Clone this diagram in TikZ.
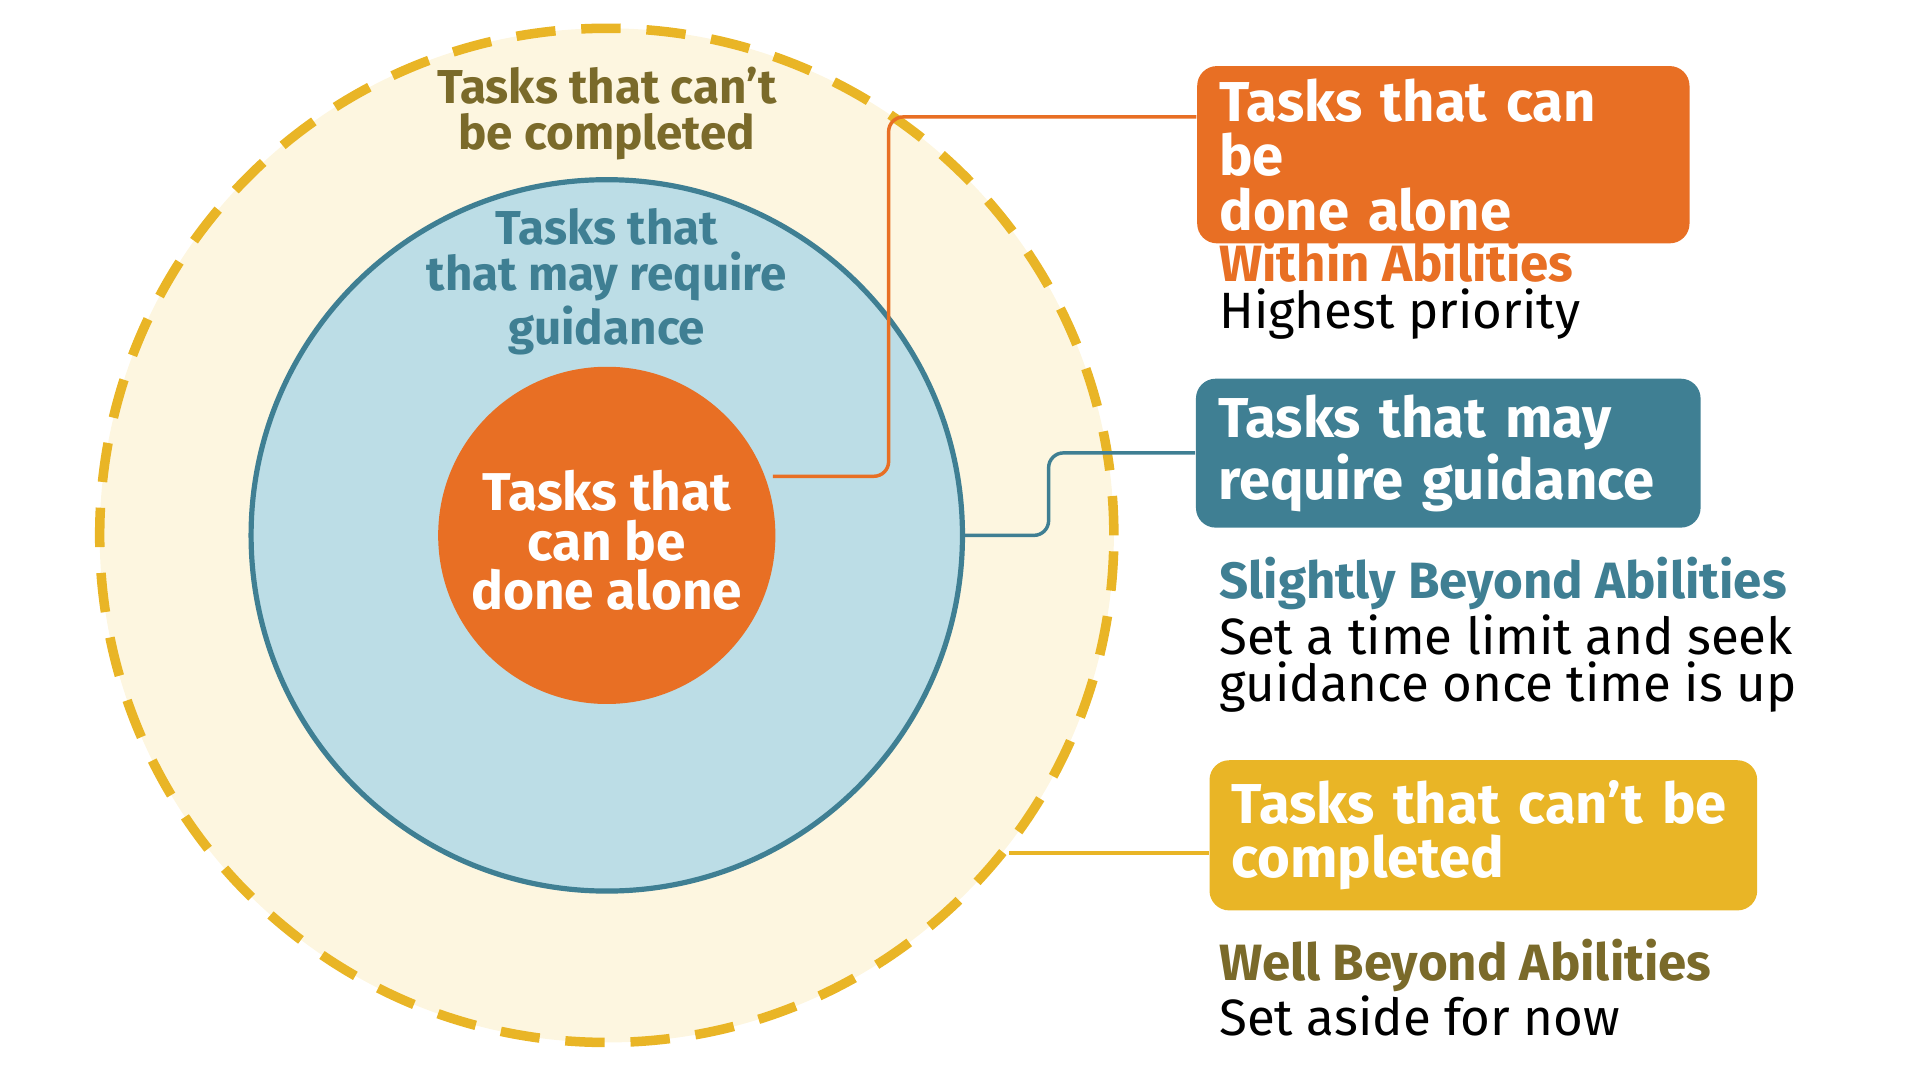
\documentclass[tikz,border=0pt]{standalone}
\usepackage{fontspec}
\setmainfont{Fira Sans}
\usetikzlibrary{calc}
\definecolor{alone}{HTML}{E86F24}
\definecolor{guide}{HTML}{3F7F93}
\definecolor{guidefill}{HTML}{BCDDE6}
\definecolor{beyond}{HTML}{E9B526}
\definecolor{beyondfill}{HTML}{FDF6E0}
\definecolor{olive}{HTML}{7A6A2A}
\tikzset{
    tagbox/.style={rounded corners=0.16cm, inner xsep=0.18cm, inner ysep=0.1cm, anchor=north west,
        text=white, font=\fontsize{13}{12.6}\selectfont\bfseries, align=left},
    sidetext/.style={anchor=north west, inner sep=0pt, align=left, font=\fontsize{11.8}{11}\selectfont},
    ringtext/.style={align=center, font=\fontsize{11}{10.6}\selectfont\bfseries},
    link/.style={line width=0.8pt, rounded corners=0.12cm},
}
\begin{document}
\begin{tikzpicture}
    \useasboundingbox (0, 0) rectangle (15.6, 8.78);
    \coordinate (O) at (4.93, 4.43);

    % circles
    \draw [beyond, fill=beyondfill, line width=2.2pt, dash pattern=on 0.32cm off 0.21cm] (O) circle (4.12);
    \draw [guide, fill=guidefill, line width=1.2pt] (O) circle (2.89);
    \fill [alone] (O) circle (1.37);

    % circle labels
    \node [ringtext, text=olive] (cantring) at (4.93, 7.86) {Tasks that can't\\be completed};
    \node [ringtext, text=guide] (mayring) at (4.93, 6.49) {Tasks that\\that may require\\guidance};
    \node [ringtext, text=white, font=\fontsize{12.3}{11.4}\selectfont\bfseries] (alonering) at (4.93, 4.39)
        {Tasks that\\can be\\done alone};

    % boxes
    \node [tagbox, fill=alone, text width=3.64cm, minimum height=1.17cm] (alonebox) at (9.72, 8.25)
        {Tasks that can be\\done alone};
    \node [tagbox, fill=guide, text width=3.74cm, minimum height=1.21cm] (maybox) at (9.71, 5.71)
        {Tasks that may\\require guidance};
    \node [tagbox, fill=beyond, text width=4.09cm, minimum height=1.22cm] (cantbox) at (9.82, 2.61)
        {Tasks that can’t be\\completed};

    % side texts
    \node [sidetext] (alonenote) at (9.9, 6.84) {{\bfseries\color{alone}Within Abilities}\\Highest priority};
    \node [sidetext] (maynote) at (9.9, 4.26) {{\bfseries\color{guide}Slightly Beyond Abilities}\\Set a time limit and seek\\guidance once time is up};
    \node [sidetext] (cantnote) at (9.9, 1.16) {{\bfseries\color{olive}Well Beyond Abilities}\\Set aside for now};

    % connectors
    \coordinate (aloneend) at ($(O) + (1.35, 0.48)$);
    \coordinate (mayend) at ($(O) + (2.89, 0)$);
    \coordinate (cantend) at (8.2, 1.85);
    \draw [link, alone] (aloneend) -- (7.22, 4.91) -- (7.22, 7.83) -- (alonebox.west |- 0, 7.83);
    \draw [link, guide] (mayend) -- (8.52, 4.43) -- (8.52, 5.1) -- (maybox.west |- 0, 5.1);
    \draw [link, beyond] (cantend) -- (cantbox.west |- cantend);
\end{tikzpicture}
\end{document}
